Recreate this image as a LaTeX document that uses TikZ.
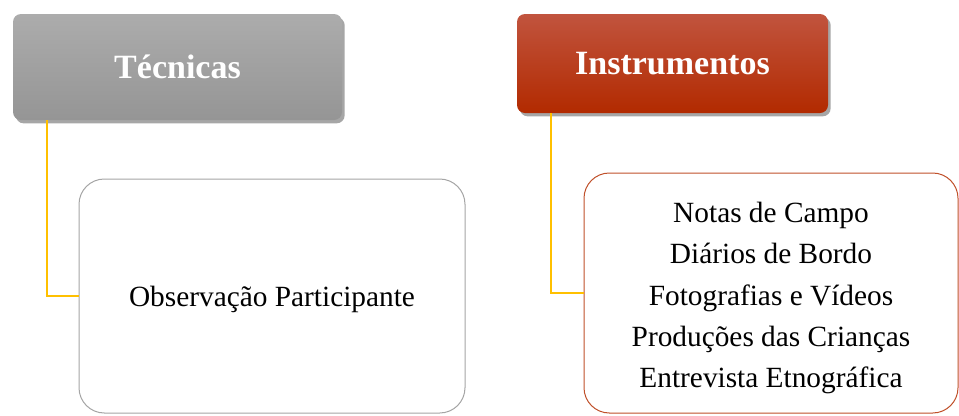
\documentclass[tikz,border=0pt]{standalone}
\usepackage{fontspec}
\setmainfont{Liberation Serif}
\usetikzlibrary{shadows}

\definecolor{grayTop}{RGB}{172,172,172}
\definecolor{grayBot}{RGB}{149,149,149}
\definecolor{redTop}{RGB}{193,84,62}
\definecolor{redMid}{RGB}{186,50,0}
\definecolor{redBot}{RGB}{178,42,0}
\definecolor{grayEdge}{RGB}{165,165,165}
\definecolor{redEdge}{RGB}{192,80,42}
\definecolor{linkYellow}{RGB}{255,192,0}

\begin{document}
\begin{tikzpicture}[x=0.75pt,y=0.75pt,yscale=-1,xscale=1]
    \tikzset{
        headbox/.style={rounded corners=6pt, inner sep=0pt, align=center,
            text=white, font=\fontsize{25.5}{30}\selectfont\bfseries,
            drop shadow={shadow xshift=2pt, shadow yshift=-2.5pt, opacity=0.35, fill=black}},
        itembox/.style={draw, line width=0.75pt, rounded corners=19pt, fill=white,
            inner sep=0pt, align=center, font=\fontsize{22}{31}\selectfont},
        link/.style={draw=linkYellow, line width=1.5pt}
    }
    %set diagram size
    \useasboundingbox (0,0) rectangle (959,415);

    % Header boxes
    \node [headbox, top color=grayTop, bottom color=grayBot,
        minimum width=246.75pt, minimum height=79.5pt] (tec) at (177.5,67) {Técnicas};
    \node [headbox, top color=redTop, middle color=redMid, bottom color=redBot,
        minimum width=233.25pt, minimum height=74.25pt] (ins) at (672.5,63.5) {Instrumentos};

    % Item boxes
    \node [itembox, draw=grayEdge, text height=21pt, minimum width=289.5pt, minimum height=175.5pt]
        (obs) at (272,296) {Observação Participante};
    \node [itembox, draw=redEdge, minimum width=280.5pt, minimum height=180pt]
        (lst) at (771,293) {\rule{0pt}{23pt}Notas de Campo\\Diários de Bordo\\Fotografias e Vídeos\\Produções das Crianças\\Entrevista Etnográfica};

    % Connectors
    \draw [link] ([xshift=25.5pt]tec.south west) |- (obs.west);
    \draw [link] ([xshift=25.5pt]ins.south west) |- (lst.west);

\end{tikzpicture}
\end{document}
